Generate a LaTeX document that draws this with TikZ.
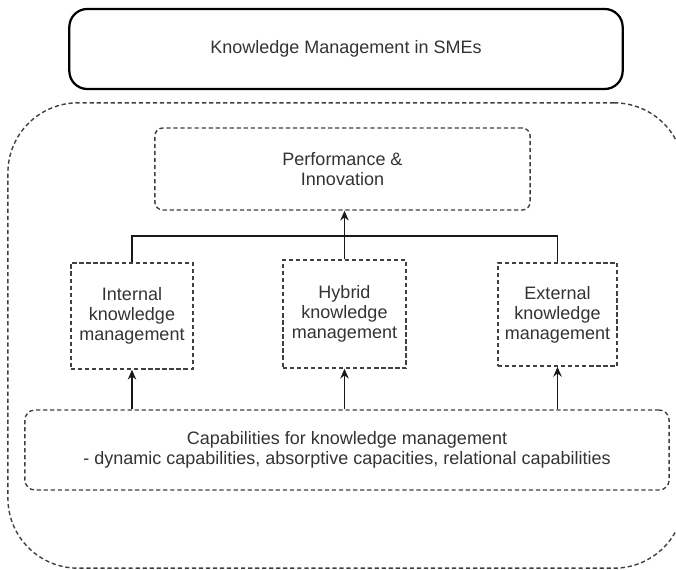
\documentclass[tikz,border=0pt]{standalone}
\usepackage{fontspec}
\setmainfont{Liberation Sans}
\usetikzlibrary{arrows.meta}

\begin{document}
\begin{tikzpicture}[%
    x=0.025cm, y=-0.025cm,
    >={Stealth[length=7pt,width=6pt]},
    font=\fontsize{12.8}{14.2}\selectfont,
    every node/.style={inner sep=0pt, align=center, text=black!80},
    dbox/.style={draw=black!75, line width=1pt, dash pattern=on 3pt off 2pt},
    kmbox/.style={dbox, minimum width=3.05cm, minimum height=2.65cm},
    link/.style={draw=black!90, line width=1pt}
    ]
    \useasboundingbox (0,0) rectangle (676,570);
    \clip (0,0) rectangle (676,570);

    \node[draw, line width=1.6pt, rounded corners=0.45cm,
        minimum width=13.83cm, minimum height=2cm] (title) at (346,49)
        {Knowledge Management in SMEs};
    \node[dbox, rounded corners=1.75cm, minimum width=16.9cm,
        minimum height=11.63cm] (frame) at (346,335.5) {};

    \node[dbox, rounded corners=0.2cm, minimum width=9.38cm,
        minimum height=2.05cm] (perf) at (342.5,169) {Performance \&\\Innovation};
    \node[kmbox] (internal) at (132,316) {Internal\\knowledge\\management};
    \node[kmbox, minimum width=3.08cm, minimum height=2.7cm] (hybrid) at (344.5,314)
        {Hybrid\\knowledge\\management};
    \node[kmbox, minimum width=2.98cm, minimum height=2.58cm] (external) at (557.5,314.5)
        {External\\knowledge\\management};
    \node[dbox, rounded corners=0.25cm, minimum width=16.1cm,
        minimum height=2cm] (capab) at (347,450)
        {Capabilities for knowledge management\\
        - dynamic capabilities, absorptive capacities, relational capabilities};

    \coordinate (bar) at (343,236);

    \draw[link] (internal.north) |- (bar) -| (external.north);
    \draw[->, link] (hybrid.north) -- (hybrid.north |- perf.south);
    \draw[->, link] (internal.south |- capab.north) -- (internal.south);
    \draw[->, link] (hybrid.south |- capab.north) -- (hybrid.south);
    \draw[->, link] (external.south |- capab.north) -- (external.south);

    \end{tikzpicture}
\end{document}
